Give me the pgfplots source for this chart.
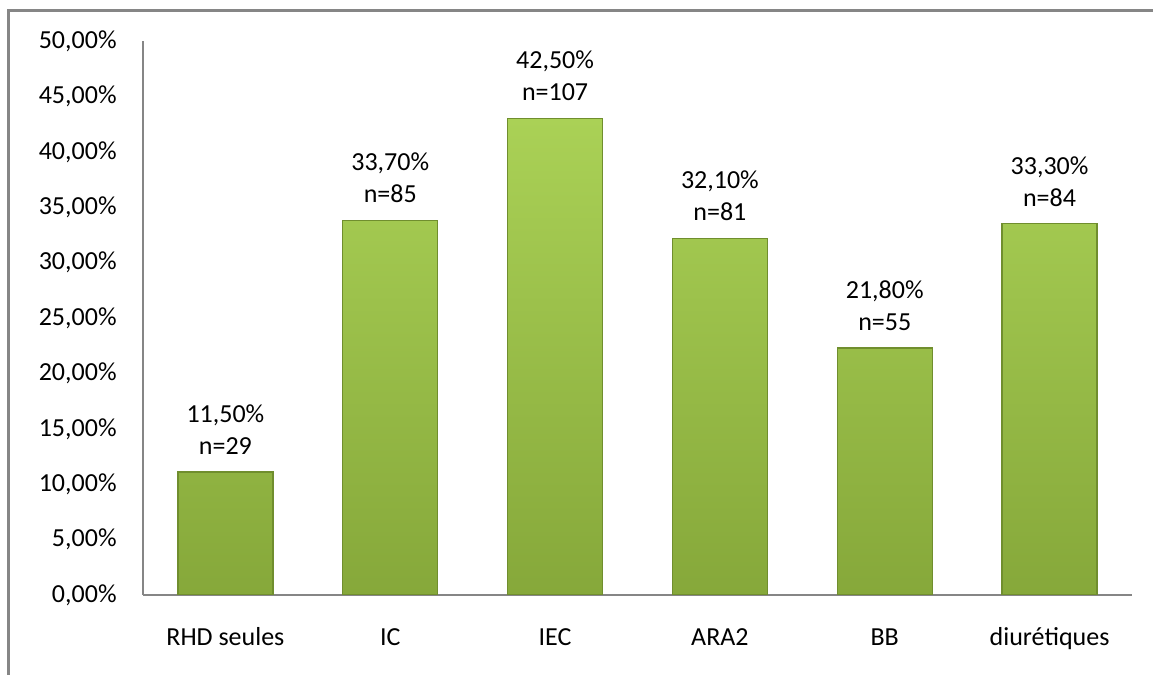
\documentclass[border=0pt]{standalone}
\usepackage{pgfplots}
\pgfplotsset{compat=1.18}
\usepackage{fontspec}
\setmainfont{Carlito}

\definecolor{barTop}{RGB}{170,209,86}
\definecolor{barBot}{RGB}{134,168,58}
\definecolor{barEdge}{RGB}{112,142,46}
\definecolor{frameGray}{RGB}{134,134,134}

\begin{document}
\begin{tikzpicture}[x=1pt,y=1pt]
\useasboundingbox (-71.5,-40) rectangle (505,297.5);
% open frame, left and top edges only
\draw[frameGray, line width=1.1pt] (-67.25,-45) -- (-67.25,292.25) -- (510,292.25);
\begin{axis}[
    at={(0,0)}, anchor=south west,
    scale only axis, width=494.5pt, height=277pt,
    xmin=-0.5, xmax=5.5, ymin=0, ymax=50,
    enlargelimits=false,
    axis lines*=left,
    axis line style={draw=frameGray, line width=0.8pt},
    tick style={draw=none}, major tick length=0pt,
    xtick={0,...,5},
    xticklabels={RHD seules, IC, IEC, ARA2, BB, diurétiques},
    ytick={0,5,...,50},
    yticklabel={\pgfmathprintnumber[fixed, fixed zerofill, precision=2, use comma, assume math mode=true]{\tick}\%},
    xticklabel style={font=\fontsize{13}{15.5}\selectfont, anchor=base, inner sep=0pt, yshift=-25.5pt},
    yticklabel style={font=\fontsize{13}{15.5}\selectfont, anchor=east, inner sep=0pt, xshift=-13pt},
    ybar, bar width=47.5pt,
    nodes near coords, point meta=explicit symbolic,
    every node near coord/.append style={font=\fontsize{13}{16}\selectfont, align=center, anchor=south, inner sep=0pt, yshift=8.5pt},
]
% bar heights as drawn in the picture; the labels carry the printed values
\addplot[top color=barTop, bottom color=barBot, draw=barEdge, line width=0.6pt]
    coordinates {
    (0,11.1) [11,50\%\\n=29]
    (1,33.8) [33,70\%\\n=85]
    (2,43.0) [42,50\%\\n=107]
    (3,32.2) [32,10\%\\n=81]
    (4,22.3) [21,80\%\\n=55]
    (5,33.5) [33,30\%\\n=84]
    };
\end{axis}
\end{tikzpicture}
\end{document}
